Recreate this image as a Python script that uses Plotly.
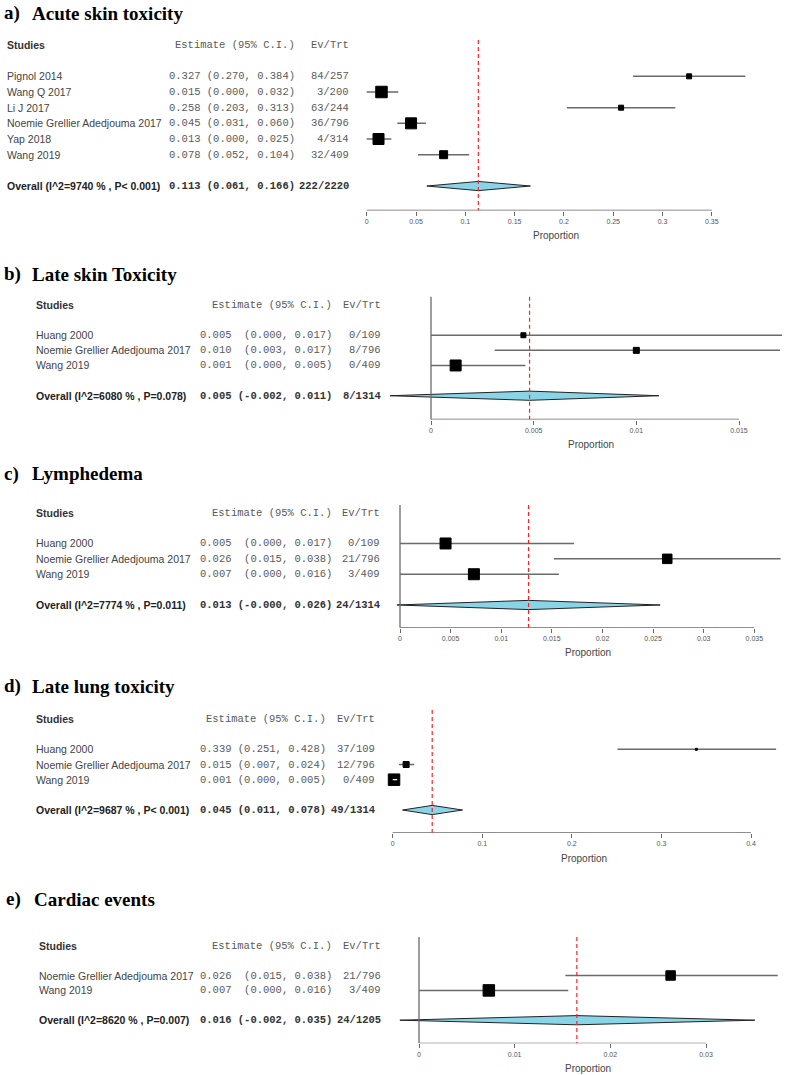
import plotly.graph_objects as go

W, H = 785, 1075

# ---- a) Acute skin toxicity
studies_a = ["Pignol 2014", "Wang Q 2017", "Li J 2017", "Noemie Grellier Adedjouma 2017", "Yap 2018", "Wang 2019"]
est_a = [0.327, 0.015, 0.258, 0.045, 0.012, 0.078]
lo_a = [0.270, 0.000, 0.203, 0.031, 0.000, 0.052]
hi_a = [0.384, 0.032, 0.313, 0.060, 0.025, 0.104]
weight_a = [6, 12.5, 6, 12, 12, 9]
ci_text_a = ["0.327 (0.270, 0.384)", "0.015 (0.000, 0.032)", "0.258 (0.203, 0.313)",
             "0.045 (0.031, 0.060)", "0.013 (0.000, 0.025)", "0.078 (0.052, 0.104)"]
ev_a = ["84/257", "3/200", "63/244", "36/796", "4/314", "32/409"]
overall_a = [0.1132, 0.061, 0.166]
overall_label_a = "Overall (I^2=9740 % , P< 0.001)"
overall_ci_a = "0.113 (0.061, 0.166)"
overall_ev_a = "222/2220"
ticks_a = [0, 0.05, 0.1, 0.15, 0.2, 0.25, 0.3, 0.35]
ticklabels_a = ["0", "0.05", "0.1", "0.15", "0.2", "0.25", "0.3", "0.35"]

# ---- b) Late skin Toxicity
studies_b = ["Huang 2000", "Noemie Grellier Adedjouma 2017", "Wang 2019"]
est_b = [0.0045, 0.0100, 0.0012]
lo_b = [0.0, 0.0031, 0.0]
hi_b = [0.0171, 0.0170, 0.0046]
weight_b = [6, 7, 12]
ci_text_b = ["0.005  (0.000, 0.017)", "0.010  (0.003, 0.017)", "0.001  (0.000, 0.005)"]
ev_b = ["0/109", "8/796", "0/409"]
overall_b = [0.0048, -0.0020, 0.0111]
overall_label_b = "Overall (I^2=6080 % , P=0.078)"
overall_ci_b = "0.005 (-0.002, 0.011)"
overall_ev_b = "8/1314"
ticks_b = [0, 0.005, 0.01, 0.015]
ticklabels_b = ["0", "0.005", "0.01", "0.015"]

# ---- c) Lymphedema
studies_c = ["Huang 2000", "Noemie Grellier Adedjouma 2017", "Wang 2019"]
est_c = [0.0045, 0.0264, 0.0073]
lo_c = [0.0, 0.0152, 0.0]
hi_c = [0.0172, 0.0376, 0.0157]
weight_c = [12, 10.5, 12]
ci_text_c = ["0.005  (0.000, 0.017)", "0.026  (0.015, 0.038)", "0.007  (0.000, 0.016)"]
ev_c = ["0/109", "21/796", "3/409"]
overall_c = [0.0127, -0.0003, 0.0257]
overall_label_c = "Overall (I^2=7774 % , P=0.011)"
overall_ci_c = "0.013 (-0.000, 0.026)"
overall_ev_c = "24/1314"
ticks_c = [0, 0.005, 0.01, 0.015, 0.02, 0.025, 0.03, 0.035]
ticklabels_c = ["0", "0.005", "0.01", "0.015", "0.02", "0.025", "0.03", "0.035"]

# ---- d) Late lung toxicity
studies_d = ["Huang 2000", "Noemie Grellier Adedjouma 2017", "Wang 2019"]
est_d = [0.339, 0.015, 0.0015]
lo_d = [0.251, 0.007, 0.0]
hi_d = [0.428, 0.024, 0.005]
weight_d = [3, 7, 12.5]
ci_text_d = ["0.339 (0.251, 0.428)", "0.015 (0.007, 0.024)", "0.001 (0.000, 0.005)"]
ev_d = ["37/109", "12/796", "0/409"]
overall_d = [0.0441, 0.011, 0.078]
overall_label_d = "Overall (I^2=9687 % , P< 0.001)"
overall_ci_d = "0.045 (0.011, 0.078)"
overall_ev_d = "49/1314"
ticks_d = [0, 0.1, 0.2, 0.3, 0.4]
ticklabels_d = ["0", "0.1", "0.2", "0.3", "0.4"]

# ---- e) Cardiac events
studies_e = ["Noemie Grellier Adedjouma 2017", "Wang 2019"]
est_e = [0.0263, 0.0073]
lo_e = [0.0153, 0.0]
hi_e = [0.0375, 0.0156]
weight_e = [10.5, 12.5]
ci_text_e = ["0.026  (0.015, 0.038)", "0.007  (0.000, 0.016)"]
ev_e = ["21/796", "3/409"]
overall_e = [0.0165, -0.0020, 0.0351]
overall_label_e = "Overall (I^2=8620 % , P=0.007)"
overall_ci_e = "0.016 (-0.002, 0.035)"
overall_ev_e = "24/1205"
ticks_e = [0, 0.01, 0.02, 0.03]
ticklabels_e = ["0", "0.01", "0.02", "0.03"]

panels = [
    dict(letter="a)", title="Acute skin toxicity", studies=studies_a, est=est_a, lo=lo_a, hi=hi_a, w=weight_a,
         ci=ci_text_a, ev=ev_a, ov=overall_a, ov_label=overall_label_a, ov_ci=overall_ci_a, ov_ev=overall_ev_a,
         ticks=ticks_a, ticklabels=ticklabels_a),
    dict(letter="b)", title="Late skin Toxicity", studies=studies_b, est=est_b, lo=lo_b, hi=hi_b, w=weight_b,
         ci=ci_text_b, ev=ev_b, ov=overall_b, ov_label=overall_label_b, ov_ci=overall_ci_b, ov_ev=overall_ev_b,
         ticks=ticks_b, ticklabels=ticklabels_b),
    dict(letter="c)", title="Lymphedema", studies=studies_c, est=est_c, lo=lo_c, hi=hi_c, w=weight_c,
         ci=ci_text_c, ev=ev_c, ov=overall_c, ov_label=overall_label_c, ov_ci=overall_ci_c, ov_ev=overall_ev_c,
         ticks=ticks_c, ticklabels=ticklabels_c),
    dict(letter="d)", title="Late lung toxicity", studies=studies_d, est=est_d, lo=lo_d, hi=hi_d, w=weight_d,
         ci=ci_text_d, ev=ev_d, ov=overall_d, ov_label=overall_label_d, ov_ci=overall_ci_d, ov_ev=overall_ev_d,
         ticks=ticks_d, ticklabels=ticklabels_d),
    dict(letter="e)", title="Cardiac events", studies=studies_e, est=est_e, lo=lo_e, hi=hi_e, w=weight_e,
         ci=ci_text_e, ev=ev_e, ov=overall_e, ov_label=overall_label_e, ov_ci=overall_ci_e, ov_ev=overall_ev_e,
         ticks=ticks_e, ticklabels=ticklabels_e),
]

# where each panel sits on the page (pixels)
geom = [
    dict(header=45, unit=15.67, axis=210.5, zero=366.7, scale=986, top=-0.32, vline=False,
         name_x=5, est_r=297, ev_r=351, title_y=13, lab_x=2, title_x=30, prop=(556, 235)),
    dict(header=305, unit=15.12, axis=419.5, zero=431, scale=20533, top=-0.55, vline=True,
         name_x=34, est_r=334, ev_r=383, title_y=274, lab_x=2, title_x=30, prop=(591, 444)),
    dict(header=512.7, unit=15.38, axis=627.7, zero=400, scale=10123, top=-0.5, vline=True,
         name_x=34, est_r=334, ev_r=382, title_y=474, lab_x=2, title_x=30, prop=(588, 652)),
    dict(header=719, unit=15.17, axis=832.7, zero=392.7, scale=895.75, top=-0.6, vline=False,
         name_x=34, est_r=328, ev_r=377, title_y=686, lab_x=2, title_x=30, prop=(584, 858)),
    dict(header=945.7, unit=14.9, axis=1043.3, zero=419, scale=9567, top=-0.58, vline=True,
         name_x=37, est_r=334, ev_r=383, title_y=899, lab_x=4, title_x=32, prop=(588, 1068)),
]

SANS = "Liberation Sans, Arial, sans-serif"
MONO = "Liberation Mono, Courier New, monospace"
SERIF = "Liberation Serif, Times New Roman, serif"
LINE_GREY = "#6a6a6a"
DIAMOND_FILL = "#8AD4E8"

fig = go.Figure()
annotations = []
shapes = []
layout = {}

for k, (p, g) in enumerate(zip(panels, geom), start=1):
    sx = "" if k == 1 else str(k)
    xr, yr = "x" + sx, "y" + sx
    n = len(p["studies"])
    rows = [i + 2 for i in range(n)]
    ov_row = n + 3
    axis_row = (g["axis"] - g["header"]) / g["unit"]
    top_px = g["header"] - g["unit"]

    layout["xaxis" + sx] = dict(
        domain=[0, 1], anchor=yr,
        range=[-g["zero"] / g["scale"], (W - g["zero"]) / g["scale"]],
        tickvals=p["ticks"], ticktext=p["ticklabels"], ticks="outside", ticklen=4, tickwidth=1,
        tickcolor=LINE_GREY, tickfont=dict(family=SANS, size=7, color="#555"),
        showline=False, showgrid=False, zeroline=False, fixedrange=True,
    )
    layout["yaxis" + sx] = dict(
        domain=[1 - g["axis"] / H, 1 - top_px / H], anchor=xr,
        range=[axis_row, -1], visible=False, fixedrange=True,
    )

    # confidence intervals: white when hidden inside the box
    cx, cy, wx, wy = [], [], [], []
    for r, lo, hi, w in zip(rows, p["lo"], p["hi"], p["w"]):
        if (hi - lo) * g["scale"] < w:
            wx += [lo, hi, None]; wy += [r, r, None]
        else:
            cx += [lo, hi, None]; cy += [r, r, None]
    fig.add_trace(go.Scatter(x=cx, y=cy, mode="lines", line=dict(color=LINE_GREY, width=1.5),
                             xaxis=xr, yaxis=yr, showlegend=False, hoverinfo="skip"))
    fig.add_trace(go.Scatter(x=p["est"], y=rows, mode="markers",
                             marker=dict(symbol="square", size=[s - 1 for s in p["w"]], color="#000000",
                                         opacity=1, line=dict(width=1, color="#000000")),
                             xaxis=xr, yaxis=yr, showlegend=False, hoverinfo="skip"))
    if wx:
        fig.add_trace(go.Scatter(x=wx, y=wy, mode="lines", line=dict(color="white", width=1.2),
                                 xaxis=xr, yaxis=yr, showlegend=False, hoverinfo="skip"))

    # pooled diamond
    est, lo, hi = p["ov"]
    h = 4.6 / g["unit"]
    fig.add_trace(go.Scatter(x=[lo, est, hi, est, lo], y=[ov_row, ov_row - h, ov_row, ov_row + h, ov_row],
                             mode="lines", fill="toself", fillcolor=DIAMOND_FILL,
                             line=dict(color="#222", width=1), xaxis=xr, yaxis=yr, showlegend=False,
                             hoverinfo="skip"))

    # axis line, zero line, pooled estimate line
    shapes.append(dict(type="line", xref=xr, yref=yr, x0=0, x1=p["ticks"][-1], y0=axis_row, y1=axis_row,
                       line=dict(color=LINE_GREY, width=1.3)))
    if g["vline"]:
        shapes.append(dict(type="line", xref=xr, yref=yr, x0=0, x1=0, y0=g["top"], y1=axis_row,
                           line=dict(color=LINE_GREY, width=1.3)))
    shapes.append(dict(type="line", xref=xr, yref=yr, x0=est, x1=est, y0=g["top"], y1=axis_row,
                       line=dict(color="#FF2020", width=1.2, dash="4px,3px")))

    # titles
    annotations.append(dict(text="<b>" + p["letter"] + "</b>", xref="paper", yref="paper", x=g["lab_x"] / W,
                            y=1 - g["title_y"] / H, xanchor="left", yanchor="middle", showarrow=False,
                            font=dict(family=SERIF, size=19, color="black")))
    annotations.append(dict(text="<b>" + p["title"] + "</b>", xref="paper", yref="paper", x=g["title_x"] / W,
                            y=1 - g["title_y"] / H, xanchor="left", yanchor="middle", showarrow=False,
                            font=dict(family=SERIF, size=19, color="black")))
    annotations.append(dict(text="Proportion", xref="paper", yref="paper", x=g["prop"][0] / W,
                            y=1 - g["prop"][1] / H, xanchor="center", yanchor="middle", showarrow=False,
                            font=dict(family=SANS, size=10, color="#444")))

    def txt(s, x, row, anchor, font):
        annotations.append(dict(text=s.replace("  ", "\u00a0\u00a0"), xref="paper", yref=yr, x=x / W, y=row,
                                xanchor=anchor, yanchor="middle", showarrow=False, font=font))

    name_font = dict(family=SANS, size=10.5, color="#444")
    mono_font = dict(family=MONO, size=10.5, color="#5a5a5a")
    # header
    txt("<b>Studies</b>", g["name_x"], 0, "left", dict(family=SANS, size=10.5, color="#333"))
    txt("Estimate (95% C.I.)", g["est_r"], 0, "right", mono_font)
    txt("Ev/Trt", g["ev_r"], 0, "right", mono_font)
    for r, s, c, e in zip(rows, p["studies"], p["ci"], p["ev"]):
        txt(s, g["name_x"], r, "left", name_font)
        txt(c, g["est_r"], r, "right", mono_font)
        txt(e, g["ev_r"], r, "right", mono_font)
    txt("<b>" + p["ov_label"] + "</b>", g["name_x"], ov_row, "left", dict(family=SANS, size=10.5, color="#222"))
    txt("<b>" + p["ov_ci"] + "</b>", g["est_r"], ov_row, "right", dict(family=MONO, size=10.5, color="#333"))
    txt("<b>" + p["ov_ev"] + "</b>", g["ev_r"], ov_row, "right", dict(family=MONO, size=10.5, color="#333"))

fig.update_layout(
    width=W, height=H, margin=dict(l=0, r=0, t=0, b=0),
    paper_bgcolor="white", plot_bgcolor="white",
    annotations=annotations, shapes=shapes, showlegend=False, hovermode=False,
    **layout,
)

# the page body has a default 8px margin; drop it so the figure sits at the top-left corner
fig.write_html("out.html", config={"displayModeBar": False},
               post_script="document.body.style.margin='0';")
